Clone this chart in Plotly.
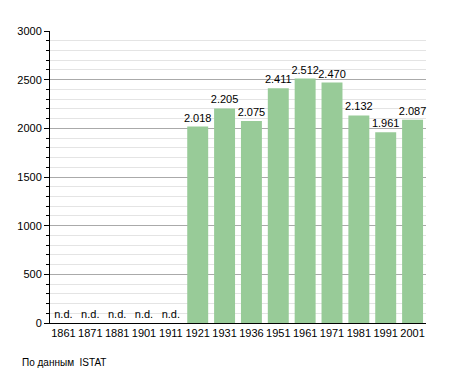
import plotly.graph_objects as go

years = ["1861", "1871", "1881", "1901", "1911", "1921", "1931", "1936", "1951", "1961", "1971", "1981", "1991", "2001"]
population = [0, 0, 0, 0, 0, 2018, 2205, 2075, 2411, 2512, 2470, 2132, 1961, 2087]
labels = ["n.d.", "n.d.", "n.d.", "n.d.", "n.d.", "2.018", "2.205", "2.075", "2.411", "2.512", "2.470", "2.132", "1.961", "2.087"]
source_note = "По данным  ISTAT"

fig = go.Figure(go.Bar(
    x=years, y=population, text=labels, textposition="outside",
    constraintext="none",
    marker=dict(color="#98cb98", line=dict(width=0)),
    textfont=dict(family="Liberation Sans, Arial", size=11, color="black"),
    cliponaxis=False, width=0.78,
))

fig.update_layout(
    width=447, height=365,
    margin=dict(l=42, r=29, t=23, b=50, autoexpand=False),
    paper_bgcolor="white", plot_bgcolor="white",
    font=dict(family="Liberation Sans, Arial", size=11, color="black"),
    showlegend=False,
    annotations=[dict(text=source_note, xref="paper", yref="paper",
                      x=-30/376, y=-39/292,
                      showarrow=False, xanchor="left", yanchor="middle",
                      font=dict(size=10))],
)

fig.update_yaxes(range=[0, 3000], dtick=500, tick0=0, showgrid=True, gridcolor="#aaaaaa", gridwidth=1,
                 showline=True, linecolor="black", linewidth=1, ticks="outside", ticklen=5,
                 tickcolor="black", zeroline=False,
                 minor=dict(dtick=100, showgrid=True, gridcolor="#e4e4e4", ticks="outside", ticklen=3, tickcolor="black"))
fig.update_xaxes(showline=True, linecolor="black", linewidth=1, ticks="", showgrid=False)

fig.write_html("out.html")
